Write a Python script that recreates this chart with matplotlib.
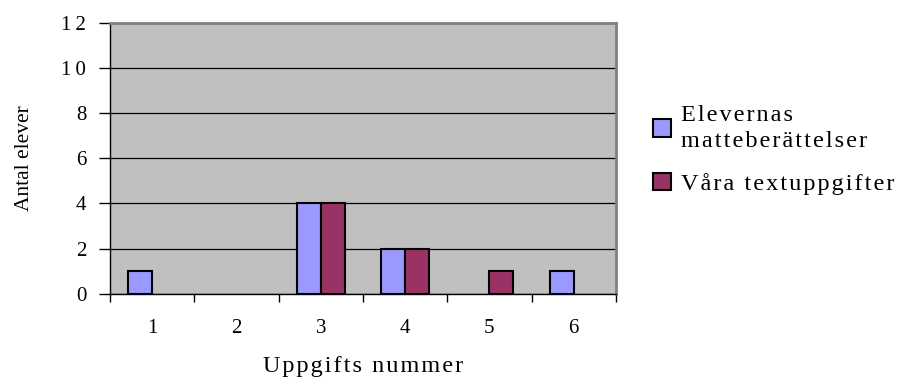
import matplotlib.pyplot as plt
from matplotlib.patches import Patch
import numpy as np

categories = ["1", "2", "3", "4", "5", "6"]
elevernas = [1, 0, 4, 2, 0, 1]
vara = [0, 0, 4, 2, 1, 0]
series_labels = ["Elevernas\nmatteberättelser", "Våra textuppgifter"]
series_colors = ["#9999FF", "#993366"]
y_ticks = [0, 2, 4, 6, 8, 10, 12]

plt.rcParams["font.family"] = ["Liberation Serif", "DejaVu Serif"]

THIN = "\u2009"
HAIR = "\u200a"


def spaced(s, sep=HAIR):
    # the original renders with loose letter spacing
    return "\n".join(sep.join(line) for line in s.split("\n"))


fig = plt.figure(figsize=(9.03, 3.79), dpi=100)
ax = fig.add_axes([0.1218, 0.2243, 0.5602, 0.7163])
ax.set_facecolor("#C0C0C0")

x = np.arange(len(categories))
w = 0.2857
for offset, vals, col in [(-w / 2, elevernas, series_colors[0]), (w / 2, vara, series_colors[1])]:
    bars = ax.bar(x + offset, vals, w, color=col, edgecolor="black", linewidth=1.5, zorder=3)
    for p, v in zip(bars.patches, vals):
        if v == 0:
            p.set_visible(False)

ax.set_xlim(-0.5, len(categories) - 0.5)
ax.set_ylim(0, 12)
ax.set_yticks(y_ticks)
ax.set_yticklabels([spaced(str(v), THIN) for v in y_ticks], fontsize=15)
ax.yaxis.grid(True, color="black", linewidth=0.9, zorder=1)
ax.set_axisbelow(True)

# category boundaries get tick marks, labels sit at centres
ax.set_xticks(np.arange(-0.5, len(categories), 1.0))
ax.set_xticklabels([])
ax.set_xticks(x, minor=True)
ax.set_xticklabels(categories, minor=True, fontsize=15)
ax.tick_params(axis="x", which="minor", length=0, pad=18)
ax.tick_params(axis="x", which="major", length=6, width=1, direction="out")
ax.tick_params(axis="y", length=8, width=1, direction="out", pad=9)

for side in ["top", "right"]:
    ax.spines[side].set_color("#808080")
    ax.spines[side].set_linewidth(2)
for side in ["left", "bottom"]:
    ax.spines[side].set_color("black")
    ax.spines[side].set_linewidth(1)

ax.set_xlabel(spaced("Uppgifts nummer"), fontsize=17.5, labelpad=13)
ax.set_ylabel("Antal elever", fontsize=15.5, labelpad=20)

handles = [Patch(facecolor=c, edgecolor="black", linewidth=1.5) for c in series_colors]
leg = ax.legend(handles, [spaced(s) for s in series_labels],
                loc="upper left", bbox_to_anchor=(1.073, 0.695), frameon=False,
                fontsize=17.5, handlelength=0.74, handleheight=0.74, handletextpad=0.42,
                labelspacing=0.85, borderpad=0, borderaxespad=0)
for t in leg.get_texts():
    t.set_linespacing(1.3)

fig.savefig("out.png", dpi=100)
